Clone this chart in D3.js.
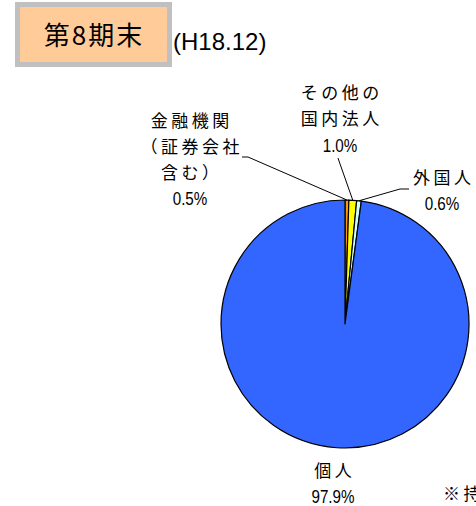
<!DOCTYPE html>
<html>
<head>
<meta charset="utf-8">
<script src="https://cdn.jsdelivr.net/npm/d3@7"></script>
<style>
  body { margin: 0; background: #fff; }
  svg { display: block; }
  .jp { font-family: "Noto Sans CJK JP", sans-serif; font-size: 17px; letter-spacing: 3.5px; fill: #000; }
  .pct { font-family: "Liberation Sans", Arial, sans-serif; font-size: 19px; fill: #000; }
</style>
</head>
<body>
<div id="chart"></div>
<script>
// data
const categories = ["金融機関（証券会社含む）", "その他の国内法人", "外国人", "個人"];
const values = [0.5, 1.0, 0.6, 97.9];
const labelLines = [["金融機関", "（証券会社", "含む）"], ["その他の", "国内法人"], ["外国人"], ["個人"]];
const colors = ["#FF9900", "#FFFF00", "#CCFFFF", "#3366FF"];
const title = "第8期末";
const period = "(H18.12)";

const width = 476, height = 506;
const cx = 345, cy = 324, radius = 124;

// label placement (center x, first baseline y) + leader line knee points
const labelPos = [
  { x: 190, y: 127, pctY: 205, knee: [[242, 157], [248, 157]] },
  { x: 340, y: 99, pctY: 152, knee: [[338, 158], [339, 161]] },
  { x: 442, y: 184, pctY: 210, knee: [[409, 189], [400, 189]] },
  { x: 333, y: 477, pctY: 503, knee: null },
];

const svg = d3.select("#chart").append("svg")
  .attr("width", width)
  .attr("height", height);

// title box
svg.append("rect")
  .attr("x", 17.5).attr("y", 4.5)
  .attr("width", 152).attr("height", 60)
  .attr("fill", "#FFCC99")
  .attr("stroke", "#C0C0C0")
  .attr("stroke-width", 5);

svg.append("text")
  .attr("x", 94).attr("y", 45)
  .attr("text-anchor", "middle")
  .style("font-family", "\"Noto Sans CJK JP\", sans-serif")
  .style("font-size", "26px")
  .style("letter-spacing", "2px")
  .text(title);

svg.append("text")
  .attr("x", 173).attr("y", 50)
  .style("font-family", "\"Liberation Sans\", Arial, sans-serif")
  .style("font-size", "24px")
  .text(period);

const pie = d3.pie().sort(null).value((d) => d).startAngle(0).endAngle(2 * Math.PI);
const arcs = pie(values);
const arc = d3.arc().innerRadius(0).outerRadius(radius);

const g = svg.append("g").attr("transform", `translate(${cx},${cy})`);

g.selectAll("path")
  .data(arcs)
  .join("path")
  .attr("d", arc)
  .attr("fill", (d, i) => colors[i])
  .attr("stroke", "#000")
  .attr("stroke-width", 1.2)
  .attr("stroke-linejoin", "round");

// leader lines
const line = d3.line();
arcs.forEach((a, i) => {
  const p = labelPos[i];
  if (!p.knee) return;
  const mid = (a.startAngle + a.endAngle) / 2;
  const end = [cx + radius * Math.sin(mid), cy - radius * Math.cos(mid)];
  svg.append("path")
    .attr("d", line([...p.knee, end]))
    .attr("fill", "none")
    .attr("stroke", "#000")
    .attr("stroke-width", 1);
});

// labels
arcs.forEach((a, i) => {
  const p = labelPos[i];
  const t = svg.append("text").attr("class", "jp").attr("text-anchor", "middle");
  labelLines[i].forEach((s, k) => {
    t.append("tspan").attr("x", p.x + 1.75).attr("y", p.y + k * 26).text(s);
  });
  // narrow digits, as in the reference
  svg.append("text")
    .attr("class", "pct")
    .attr("text-anchor", "middle")
    .attr("transform", `translate(${p.x},${p.pctY}) scale(0.8,1)`)
    .text(values[i].toFixed(1) + "%");
});

// footnote, clipped by the right edge as in the reference
svg.append("text")
  .attr("class", "jp")
  .attr("x", 443).attr("y", 500)
  .text("※持");
</script>
</body>
</html>
